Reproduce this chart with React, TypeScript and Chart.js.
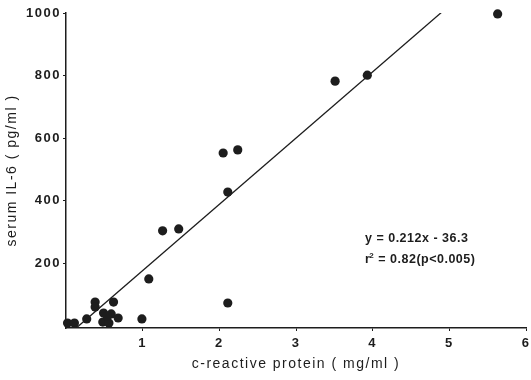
import { useEffect, useRef } from "react";
import { Chart, registerables } from "chart.js";

Chart.register(...registerables);

// C-reactive protein (mg/ml) against serum IL-6 (pg/ml), one entry per patient
const crp = [0.02, 0.11, 0.27, 0.38, 0.38, 0.49, 0.59, 0.48, 0.56, 0.54, 0.62, 0.68, 0.99, 1.08, 1.26, 1.47, 2.05, 2.11, 2.11, 2.24, 3.51, 3.93, 5.63];
const il6 = [8, 8, 21, 75, 59, 40, 37, 11, 8, 30, 75, 24, 21, 149, 303, 309, 552, 427, 72, 562, 782, 801, 997];

const xTickValues = [1, 2, 3, 4, 5, 6];
const yTickValues = [200, 400, 600, 800, 1000];

// Least-squares fit as printed on the plot (IL-6 in pg/ml, CRP in mg/ml)
const fitSlope = 212;
const fitIntercept = -36.3;
const fitRange = [0.133, 4.92];
const equationLines = ["y = 0.212x - 36.3", "= 0.82(p<0.005)"];

const INK = "#1d1d1d";
const FONT = '"Liberation Sans", Arial, Helvetica, sans-serif';

const letterSpacing = {
  id: "letterSpacing",
  beforeLayout(chart: any) {
    chart.ctx.letterSpacing = "1.5px";
  },
  beforeDraw(chart: any) {
    chart.ctx.letterSpacing = "1.5px";
  },
};

const equationLabel = {
  id: "equationLabel",
  afterDatasetsDraw(chart: any) {
    const { ctx, scales } = chart;
    const x = scales.x.getPixelForValue(3.9);
    const y1 = scales.y.getPixelForValue(277);
    const y2 = scales.y.getPixelForValue(211);
    ctx.save();
    ctx.letterSpacing = "0.5px";
    ctx.fillStyle = INK;
    ctx.textBaseline = "middle";
    ctx.textAlign = "left";
    ctx.font = `bold 12.5px ${FONT}`;
    ctx.fillText(equationLines[0], x, y1);
    ctx.fillText("r", x, y2);
    const rw = ctx.measureText("r").width;
    ctx.font = `bold 8px ${FONT}`;
    ctx.fillText("2", x + rw - 1, y2 - 4);
    const sw = ctx.measureText("2").width;
    ctx.font = `bold 12.5px ${FONT}`;
    ctx.fillText(" " + equationLines[1], x + rw + sw - 1, y2);
    ctx.restore();
  },
};

export default function App() {
  const canvasRef = useRef<HTMLCanvasElement | null>(null);

  useEffect(() => {
    const canvas = canvasRef.current;
    if (!canvas) return;

    const points = crp.map((v, i) => ({ x: v, y: il6[i] }));
    const fitLine = fitRange.map((v) => ({ x: v, y: fitSlope * v + fitIntercept }));

    const chart = new Chart(canvas, {
      type: "scatter",
      data: {
        datasets: [
          {
            data: points,
            backgroundColor: INK,
            borderWidth: 0,
            pointRadius: 4.6,
            clip: 10,
          } as any,
          {
            data: fitLine,
            showLine: true,
            borderColor: INK,
            borderWidth: 1.3,
            pointRadius: 0,
          } as any,
        ],
      },
      options: {
        responsive: false,
        animation: false,
        devicePixelRatio: 1,
        layout: { padding: { top: 13, right: 19, bottom: 0, left: 0 } },
        plugins: { legend: { display: false }, tooltip: { enabled: false } },
        scales: {
          x: {
            type: "linear",
            min: 0,
            max: 6,
            afterBuildTicks: (s: any) => {
              s.ticks = xTickValues.map((v) => ({ value: v }));
            },
            afterFit: (s: any) => {
              s.height = 52;
            },
            grid: { drawOnChartArea: false, tickLength: 3, color: INK, lineWidth: 1 },
            border: { color: INK, width: 1.5 },
            ticks: {
              color: INK,
              font: { family: FONT, size: 13, weight: "bold" },
              padding: 5,
              maxRotation: 0,
              autoSkip: false,
              callback: (v: any) => String(v),
            },
            title: {
              display: true,
              text: "c-reactive protein ( mg/ml )",
              color: INK,
              font: { family: FONT, size: 14 },
              padding: { top: 0, bottom: 7 },
            },
          },
          y: {
            type: "linear",
            min: -8,
            max: 1000,
            afterBuildTicks: (s: any) => {
              s.ticks = yTickValues.map((v) => ({ value: v }));
            },
            afterFit: (s: any) => {
              s.width = 66;
            },
            grid: { drawOnChartArea: false, tickLength: 3, color: INK, lineWidth: 1 },
            border: { color: INK, width: 1.5 },
            ticks: {
              color: INK,
              font: { family: FONT, size: 13, weight: "bold" },
              padding: 2,
              autoSkip: false,
              callback: (v: any) => String(v),
            },
            title: {
              display: true,
              text: "serum IL-6 ( pg/ml )",
              color: INK,
              font: { family: FONT, size: 14 },
              padding: { top: 4, bottom: 0 },
            },
          },
        },
      } as any,
      plugins: [letterSpacing, equationLabel],
    });

    return () => chart.destroy();
  }, []);

  return (
    <div
      style={{
        position: "fixed",
        left: 0,
        top: 0,
        width: 531,
        height: 380,
        overflow: "hidden",
        background: "#fff",
      }}
    >
      <canvas ref={canvasRef} width={545} height={380} style={{ display: "block", width: 545, height: 380 }} />
    </div>
  );
}
